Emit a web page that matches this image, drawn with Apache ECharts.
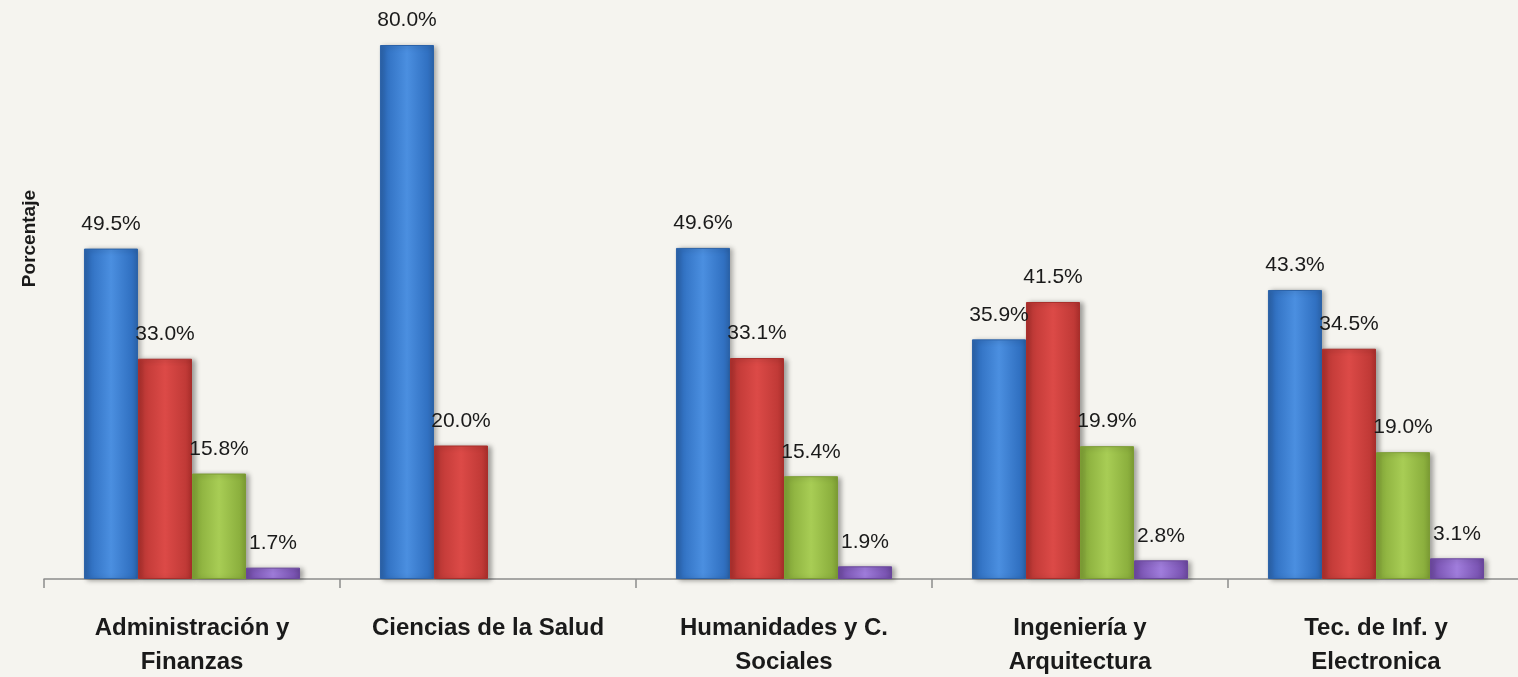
<!DOCTYPE html>
<html>
<head>
<meta charset="utf-8">
<script src="https://cdn.jsdelivr.net/npm/echarts@6/dist/echarts.min.js"></script>
<style>
  html, body { margin: 0; padding: 0; background: #f5f4ef; }
  #chart { width: 1518px; height: 677px; }
</style>
</head>
<body>
<div id="chart"></div>
<script>
const categories = [
  "Administración y\nFinanzas",
  "Ciencias de la Salud",
  "Humanidades y C.\nSociales",
  "Ingeniería y\nArquitectura",
  "Tec. de Inf. y\nElectronica",
];
const serie1 = [49.5, 80.0, 49.6, 35.9, 43.3];
const serie2 = [33.0, 20.0, 33.1, 41.5, 34.5];
const serie3 = [15.8, null, 15.4, 19.9, 19.0];
const serie4 = [1.7, null, 1.9, 2.8, 3.1];

const colors = {
  blue: ["#3171c2", "#4b8fe0", "#2b62a8"],
  red: ["#c13a37", "#dc4a47", "#a92e2b"],
  green: ["#8cb03e", "#a8cd55", "#7c9c34"],
  purple: ["#7c56b5", "#a07ddc", "#6a479c"],
  axis: "#8c8c8c",
  text: "#1a1a1a",
};

const font = "'Liberation Sans', Arial, sans-serif";

// degradado horizontal para dar efecto de bisel
function bevel(c) {
  return new echarts.graphic.LinearGradient(0, 0, 1, 0, [
    { offset: 0, color: c[2] },
    { offset: 0.12, color: c[0] },
    { offset: 0.5, color: c[1] },
    { offset: 0.88, color: c[0] },
    { offset: 1, color: c[2] },
  ]);
}

function createSeries(name, c, data) {
  return {
    name,
    type: "bar",
    data,
    barGap: 0,
    barCategoryGap: "27%",
    itemStyle: {
      color: bevel(c),
      borderColor: c[2],
      borderWidth: 1,
      shadowColor: "rgba(0,0,0,0.35)",
      shadowBlur: 5,
      shadowOffsetX: 3,
      shadowOffsetY: 1,
    },
    label: {
      show: true,
      position: "top",
      distance: 14,
      color: colors.text,
      fontFamily: font,
      fontSize: 21,
      formatter: (p) => p.value.toFixed(1) + "%",
    },
  };
}

const option = {
  backgroundColor: "#f5f4ef",
  animation: false,
  grid: { left: 44, right: -6, top: 45, bottom: 98, containLabel: false, outerBoundsMode: "none" },
  xAxis: {
    type: "category",
    data: categories,
    axisLine: { lineStyle: { color: colors.axis, width: 1.5 } },
    axisTick: { show: true, length: 9, lineStyle: { color: colors.axis, width: 1.5 } },
    axisLabel: {
      interval: 0,
      margin: 32,
      color: colors.text,
      fontFamily: font,
      fontWeight: "bold",
      fontSize: 24,
      lineHeight: 34,
    },
  },
  yAxis: {
    type: "value",
    min: 0,
    max: 80,
    show: false,
  },
  graphic: [{
    type: "text",
    left: 20,
    top: 190,
    rotation: Math.PI / 2,
    style: {
      text: "Porcentaje",
      fill: colors.text,
      font: "bold 19px " + font,
    },
  }],
  series: [
    createSeries("Serie 1", colors.blue, serie1),
    createSeries("Serie 2", colors.red, serie2),
    createSeries("Serie 3", colors.green, serie3),
    createSeries("Serie 4", colors.purple, serie4),
  ],
};

const myChart = echarts.init(document.getElementById("chart"));
myChart.setOption(option);
</script>
</body>
</html>
